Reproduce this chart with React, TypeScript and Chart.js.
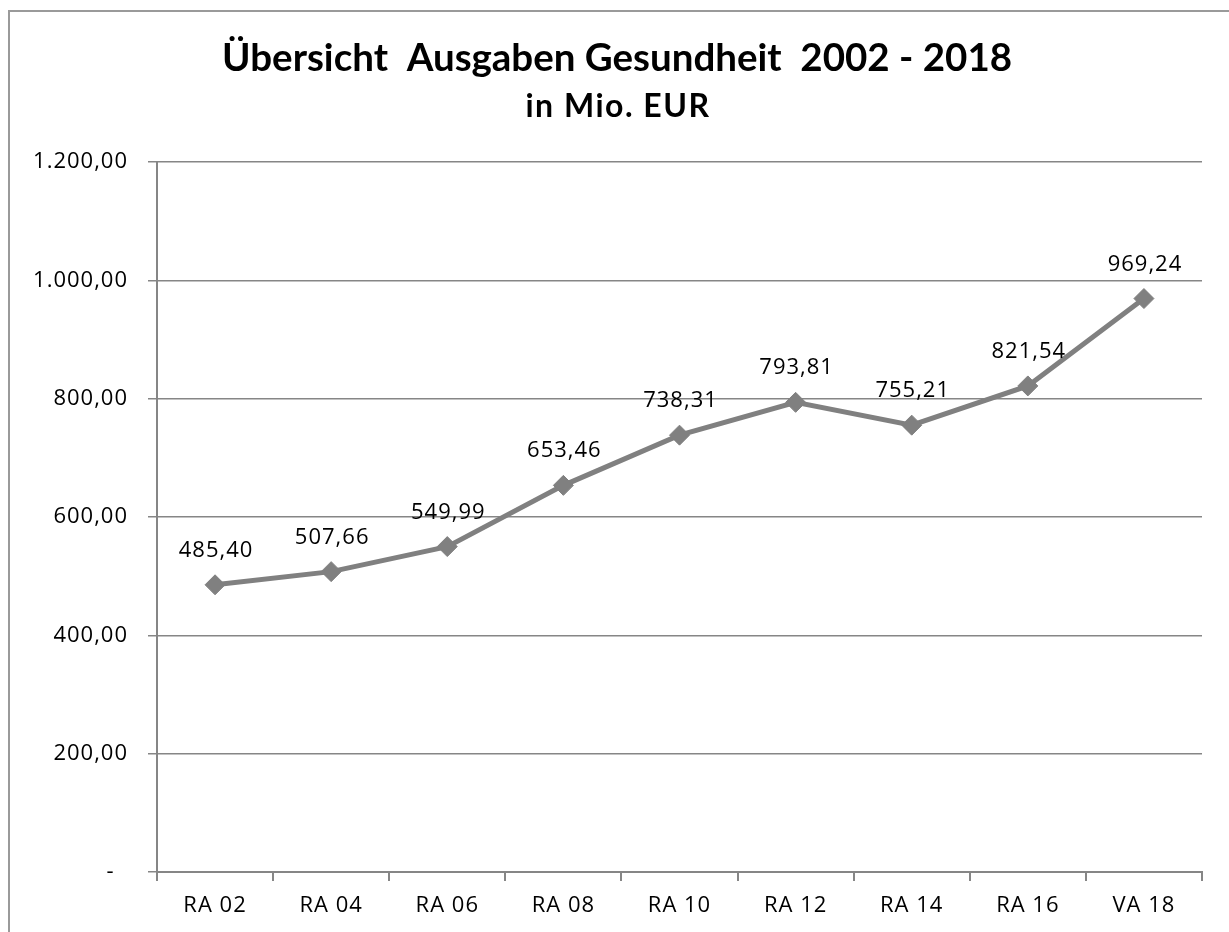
import React, { useEffect, useRef } from "react";
import { Chart, registerables } from "chart.js";

Chart.register(...registerables);

const categories = ["RA 02", "RA 04", "RA 06", "RA 08", "RA 10", "RA 12", "RA 14", "RA 16", "VA 18"];
const values = [485.4, 507.66, 549.99, 653.46, 738.31, 793.81, 755.21, 821.54, 969.24];
const valueLabels = ["485,40", "507,66", "549,99", "653,46", "738,31", "793,81", "755,21", "821,54", "969,24"];
const yTickValues = [0, 200, 400, 600, 800, 1000, 1200];
const yTickLabels = ["-  ", "200,00", "400,00", "600,00", "800,00", "1.000,00", "1.200,00"];
const titleText = "Übersicht  Ausgaben Gesundheit  2002 - 2018";
const subtitleText = "in Mio. EUR";

const TITLE_FONT = "Lato, Carlito, Calibri, sans-serif";
const FONT = "'Open Sans', 'Noto Sans', sans-serif";
const GRAY = "#868686";
const TEXT = "#000";

const spacingPlugin = {
  id: "spacing",
  beforeLayout(chart: any) {
    chart.ctx.letterSpacing = "1px";
  },
  beforeDraw(chart: any) {
    chart.ctx.letterSpacing = "1px";
  },
};

const titlePlugin = {
  id: "customTitle",
  afterDraw(chart: any) {
    const ctx = chart.ctx;
    ctx.save();
    ctx.fillStyle = "#000";
    ctx.textAlign = "center";
    ctx.textBaseline = "alphabetic";
    ctx.letterSpacing = "0px";
    ctx.font = `bold 38.5px ${TITLE_FONT}`;
    ctx.fillText(titleText, 617, 71);
    ctx.letterSpacing = "1.5px";
    ctx.font = `bold 32px ${TITLE_FONT}`;
    ctx.fillText(subtitleText, 618, 117);
    ctx.restore();
  },
};

const dataLabelPlugin = {
  id: "dataLabels",
  afterDatasetsDraw(chart: any) {
    const ctx = chart.ctx;
    const meta = chart.getDatasetMeta(0);
    ctx.save();
    ctx.letterSpacing = "1px";
    ctx.font = `22px ${FONT}`;
    ctx.fillStyle = TEXT;
    ctx.textAlign = "center";
    ctx.textBaseline = "alphabetic";
    meta.data.forEach((pt: any, i: number) => {
      ctx.fillText(valueLabels[i], pt.x + 1, pt.y - 28);
    });
    ctx.restore();
  },
};

export default function App() {
  const ref = useRef<HTMLCanvasElement | null>(null);
  useEffect(() => {
    if (!ref.current) return;
    const chart = new Chart(ref.current, {
      type: "line",
      data: {
        labels: categories,
        datasets: [
          {
            data: values,
            borderColor: "#808080",
            backgroundColor: "#808080",
            borderWidth: 5,
            pointStyle: "rectRot",
            pointRadius: 10,
            pointBorderWidth: 1,
            pointBackgroundColor: "#808080",
            pointBorderColor: "#808080",
            tension: 0,
          },
        ],
      },
      options: {
        animation: false,
        responsive: false,
        maintainAspectRatio: false,
        layout: { padding: { top: 162, right: 27, bottom: 0, left: 0 } },
        plugins: {
          legend: { display: false },
          tooltip: { enabled: false },
          title: { display: false },
        },
        scales: {
          x: {
            type: "category",
            offset: true,
            grid: {
              display: true,
              drawOnChartArea: false,
              drawTicks: true,
              tickLength: 9,
              offset: true,
              color: GRAY,
              lineWidth: 2,
            },
            border: { display: true, color: GRAY, width: 2 },
            ticks: {
              color: TEXT,
              font: { family: FONT, size: 22 },
              padding: 12,
              maxRotation: 0,
              autoSkip: false,
            },
            afterFit(scale: any) {
              scale.height = 60;
            },
          },
          y: {
            type: "linear",
            min: 0,
            max: 1200,
            afterBuildTicks(scale: any) {
              scale.ticks = yTickValues.map((v) => ({ value: v }));
            },
            grid: {
              display: true,
              drawOnChartArea: true,
              drawTicks: true,
              tickLength: 9,
              color: GRAY,
              lineWidth: 1.5,
            },
            border: { display: true, color: GRAY, width: 2 },
            ticks: {
              color: TEXT,
              font: { family: FONT, size: 22 },
              padding: 20,
              callback: (_v: any, i: number) => yTickLabels[i],
            },
            afterFit(scale: any) {
              scale.width = 157;
            },
          },
        },
      },
      plugins: [spacingPlugin, dataLabelPlugin, titlePlugin],
    });
    return () => chart.destroy();
  }, []);

  return (
    <div style={{ position: "fixed", left: 0, top: 0, width: 1229, height: 932, overflow: "hidden", background: "#fff" }}>
      <div
        style={{
          position: "absolute",
          left: 8,
          top: 10,
          width: 1260,
          height: 960,
          border: "2px solid #9a9a9a",
          boxSizing: "border-box",
        }}
      />
      <canvas ref={ref} width={1229} height={932} style={{ position: "absolute", left: 0, top: 0, width: 1229, height: 932 }} />
    </div>
  );
}
